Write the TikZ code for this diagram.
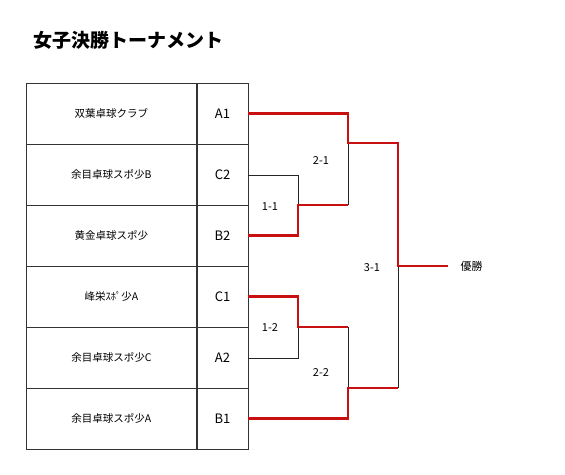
\documentclass[tikz,border=0pt]{standalone}
\usepackage{fontspec}
\setmainfont{Noto Sans CJK JP}
\usetikzlibrary{positioning,calc}
\definecolor{winred}{RGB}{200,16,16}

\begin{document}
\begin{tikzpicture}[x=1pt,y=-1pt,
  cell/.style={draw=black!80,line width=0.7pt,minimum height=61pt,inner sep=0pt,font=\fontsize{10.5}{12}\selectfont},
  namecell/.style={cell,minimum width=170pt},
  seedcell/.style={cell,minimum width=51pt,font=\fontsize{13}{15}\selectfont},
  win/.style={draw=winred,line width=2.8pt},
  lose/.style={draw=black!85,line width=0.7pt},
  score/.style={font=\fontsize{11}{13}\selectfont}]
\useasboundingbox (0,0) rectangle (565,474);
\node[anchor=west,font=\bfseries\fontsize{19}{22}\selectfont] (title) at (30,40) {女子決勝トーナメント};
% teams: name cell + seed cell, one row each
\foreach \i/\team/\seed in {1/双葉卓球クラブ/A1, 2/余目卓球スポ少B/C2, 3/黄金卓球スポ少/B2,
  4/峰栄ｽﾎﾟ少A/C1, 5/余目卓球スポ少C/A2, 6/余目卓球スポ少A/B1} {
  \node[namecell,anchor=north west] (t\i) at (26,{83+61*(\i-1)}) {\team};
  \node[seedcell,anchor=west] (s\i) at (t\i.east) {\seed};
}
% bracket corners
\coordinate (j11) at (298,205);
\coordinate (j12) at (298,327);
\coordinate (j21) at (348,143);
\coordinate (j22) at (348,388);
\coordinate (j31) at (398,266);
\coordinate (fin) at (448,266);
\node[score,right=9pt of fin] (champ) {優勝};
% losers (thin)
\draw[lose] (s2.east) -| (j11);
\draw[lose] (s5.east) -| (j12);
\draw[lose] (j11 -| j21) -- (j21);
\draw[lose] (j12 -| j22) -- (j22);
\draw[lose] (j22 -| j31) -- (j31);
% winners (red)
\draw[win] (s1.east) -| (j21) -| (j31) -- (fin);
\draw[win] (s3.east) -| (j11) -- (j11 -| j21);
\draw[win] (s4.east) -| (j12) -- (j12 -| j22);
\draw[win] (s6.east) -| (j22) -- (j22 -| j31);
% match numbers
\node[score] (m11) at (270,207) {1-1};
\node[score] (m12) at (270,328) {1-2};
\node[score] (m21) at (321,161) {2-1};
\node[score] (m22) at (321,373) {2-2};
\node[score] (m31) at (372,268) {3-1};
\end{tikzpicture}
\end{document}
